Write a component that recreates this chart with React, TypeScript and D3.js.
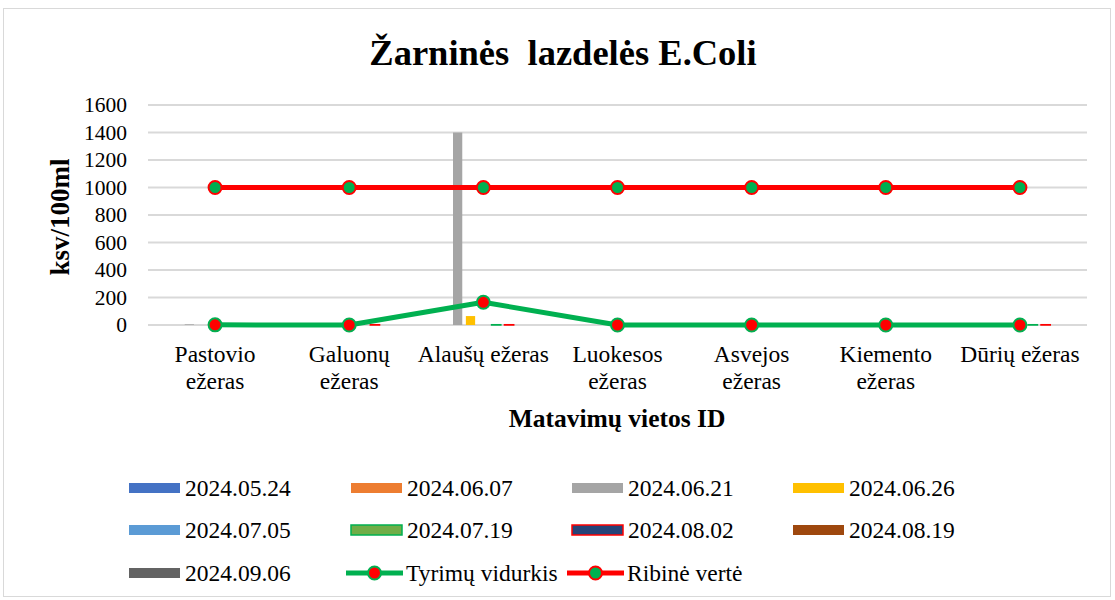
import React, { useRef, useEffect } from "react";
import * as d3 from "d3";

// measurement sites (x axis), two-line labels where the chart wraps them
const categories = [
  "Pastovio ežeras",
  "Galuonų ežeras",
  "Alaušų ežeras",
  "Luokesos ežeras",
  "Asvejos ežeras",
  "Kiemento ežeras",
  "Dūrių ežeras",
];
const categoryLines = [
  ["Pastovio", "ežeras"],
  ["Galuonų", "ežeras"],
  ["Alaušų ežeras"],
  ["Luokesos", "ežeras"],
  ["Asvejos", "ežeras"],
  ["Kiemento", "ežeras"],
  ["Dūrių ežeras"],
];

// sampling dates (bar series)
const dates = [
  "2024.05.24",
  "2024.06.07",
  "2024.06.21",
  "2024.06.26",
  "2024.07.05",
  "2024.07.19",
  "2024.08.02",
  "2024.08.19",
  "2024.09.06",
];
const v0524 = [0, 0, 0, 0, 0, 0, 0];
const v0607 = [0, 0, 0, 0, 0, 0, 0];
const v0621 = [5, 0, 1400, 0, 0, 0, 0];
const v0626 = [0, 0, 65, 0, 0, 0, 0];
const v0705 = [0, 0, 0, 0, 0, 0, 0];
const v0719 = [0, 0, 2, 0, 0, 0, 2];
const v0802 = [0, 2, 2, 0, 0, 0, 2];
const v0819 = [0, 0, 0, 0, 0, 0, 0];
const v0906 = [0, 0, 0, 0, 0, 0, 0];
const barValues = [v0524, v0607, v0621, v0626, v0705, v0719, v0802, v0819, v0906];

// lines
const average = [1, 0, 165, 0, 0, 0, 0];
const limit = [1000, 1000, 1000, 1000, 1000, 1000, 1000];

const yTicks = [0, 200, 400, 600, 800, 1000, 1200, 1400, 1600];

const barFill = ["#4472C4", "#ED7D31", "#A5A5A5", "#FFC000", "#5B9BD5", "#70AD47", "#264478", "#9E480E", "#636363"];
const barStroke = [null, null, null, null, null, "#00B050", "#FF0000", null, null];

const FONT = "'Liberation Serif', 'Times New Roman', serif";

const App = () => {
  const ref = useRef(null);

  useEffect(() => {
    const svg = d3.select(ref.current);
    svg.selectAll("*").remove();

    const W = 1115;
    const H = 600;
    svg.append("rect").attr("width", W).attr("height", H).attr("fill", "#fff");
    svg
      .append("rect")
      .attr("x", 3.5)
      .attr("y", 8.5)
      .attr("width", 1107)
      .attr("height", 588)
      .attr("fill", "none")
      .attr("stroke", "#d9d9d9");

    const x0 = d3.scaleBand().domain(categories).range([148, 1087]);
    const x1 = d3
      .scaleBand()
      .domain(dates)
      .range([11, x0.bandwidth() - 11])
      .paddingInner(0.28);
    const y = d3.scaleLinear().domain([0, 1600]).range([325, 105]);

    // title
    svg
      .append("text")
      .attr("x", 563)
      .attr("y", 65)
      .attr("text-anchor", "middle")
      .attr("font-family", FONT)
      .attr("font-weight", "bold")
      .attr("font-size", 36.5)
      .style("white-space", "pre")
      .text("Žarninės  lazdelės E.Coli");

    // grid
    const grid = svg.append("g");
    grid
      .selectAll("line")
      .data(yTicks)
      .enter()
      .append("line")
      .attr("x1", 148)
      .attr("x2", 1087)
      .attr("y1", (d) => y(d))
      .attr("y2", (d) => y(d))
      .attr("stroke", "#d9d9d9")
      .attr("stroke-width", 2);

    // y axis labels
    const yAxis = svg
      .append("g")
      .attr("transform", "translate(127,0)")
      .call(
        d3.axisLeft(y).tickValues(yTicks).tickFormat(d3.format("d")).tickSize(0).tickPadding(0)
      );
    yAxis.select(".domain").remove();
    yAxis
      .selectAll("text")
      .attr("font-family", FONT)
      .attr("font-size", 21.5)
      .attr("fill", "#000");

    svg
      .append("text")
      .attr("transform", "translate(69,217) rotate(-90)")
      .attr("text-anchor", "middle")
      .attr("font-family", FONT)
      .attr("font-weight", "bold")
      .attr("font-size", 27)
      .text("ksv/100ml");

    // x labels
    const xl = svg.append("g");
    categoryLines.forEach((lines, i) => {
      const cx = x0(categories[i]) + x0.bandwidth() / 2;
      lines.forEach((t, j) => {
        xl.append("text")
          .attr("x", cx)
          .attr("y", 362 + j * 27)
          .attr("text-anchor", "middle")
          .attr("font-family", FONT)
          .attr("font-size", 23.5)
          .text(t);
      });
    });

    svg
      .append("text")
      .attr("x", 617)
      .attr("y", 427)
      .attr("text-anchor", "middle")
      .attr("font-family", FONT)
      .attr("font-weight", "bold")
      .attr("font-size", 25.5)
      .text("Matavimų vietos ID");

    // bars
    const bars = svg.append("g");
    dates.forEach((dt, s) => {
      bars
        .append("g")
        .selectAll("rect")
        .data(barValues[s])
        .enter()
        .append("rect")
        .attr("x", (d, i) => x0(categories[i]) + x1(dt))
        .attr("width", x1.bandwidth())
        .attr("y", (d) => y(d))
        .attr("height", (d) => y(0) - y(d))
        .attr("fill", barFill[s])
        .attr("stroke", (d) => (barStroke[s] && d > 0 ? barStroke[s] : "none"))
        .attr("stroke-width", 1.5);
    });

    const cxOf = (i) => x0(categories[i]) + x0.bandwidth() / 2;
    const line = d3
      .line()
      .x((d, i) => cxOf(i))
      .y((d) => y(d));

    const drawSeries = (vals, color, markFill, markStroke) => {
      svg
        .append("path")
        .datum(vals)
        .attr("d", line)
        .attr("fill", "none")
        .attr("stroke", color)
        .attr("stroke-width", 5)
        .attr("stroke-linejoin", "round");
      svg
        .append("g")
        .selectAll("circle")
        .data(vals)
        .enter()
        .append("circle")
        .attr("cx", (d, i) => cxOf(i))
        .attr("cy", (d) => y(d))
        .attr("r", 6.5)
        .attr("fill", markFill)
        .attr("stroke", markStroke)
        .attr("stroke-width", 2);
    };
    drawSeries(average, "#00B050", "#FF0000", "#00B050");
    drawSeries(limit, "#FF0000", "#00B050", "#FF0000");

    // legend
    const colX = [129, 351, 572, 793];
    const rowY = [488, 530, 573];
    const leg = svg.append("g");
    dates.forEach((dt, s) => {
      const lx = colX[s % 4];
      const ly = rowY[Math.floor(s / 4)];
      leg
        .append("rect")
        .attr("x", lx)
        .attr("y", ly - 5)
        .attr("width", 51)
        .attr("height", 10)
        .attr("fill", barFill[s])
        .attr("stroke", barStroke[s] || "none")
        .attr("stroke-width", 1.5);
      leg
        .append("text")
        .attr("x", lx + 56)
        .attr("y", ly + 8)
        .attr("font-family", FONT)
        .attr("font-size", 23.5)
        .text(dt);
    });
    const lineLegend = [
      { label: "Tyrimų vidurkis", color: "#00B050", fill: "#FF0000", x: 346 },
      { label: "Ribinė vertė", color: "#FF0000", fill: "#00B050", x: 567 },
    ];
    lineLegend.forEach((l) => {
      const ly = rowY[2];
      leg
        .append("line")
        .attr("x1", l.x)
        .attr("x2", l.x + 57)
        .attr("y1", ly)
        .attr("y2", ly)
        .attr("stroke", l.color)
        .attr("stroke-width", 5);
      leg
        .append("circle")
        .attr("cx", l.x + 28.5)
        .attr("cy", ly)
        .attr("r", 6.5)
        .attr("fill", l.fill)
        .attr("stroke", l.color)
        .attr("stroke-width", 2);
      leg
        .append("text")
        .attr("x", l.x + 60)
        .attr("y", ly + 8)
        .attr("font-family", FONT)
        .attr("font-size", 23.5)
        .text(l.label);
    });
  }, []);

  return (
    <div style={{ position: "absolute", left: 0, top: 0 }}>
      <svg ref={ref} width={1115} height={600} style={{ display: "block" }} />
    </div>
  );
};

export default App;
